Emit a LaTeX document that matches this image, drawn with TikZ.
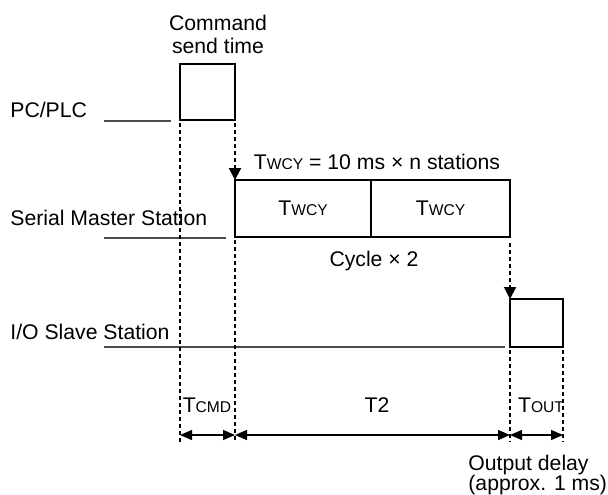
\documentclass[tikz,border=0pt]{standalone}
\usepackage{fontspec}
\setmainfont{Liberation Sans}
\usetikzlibrary{arrows.meta}
\newcommand{\tsub}[1]{{\fontsize{7.8}{9}\selectfont #1}}
\begin{document}
\begin{tikzpicture}[x=0.5pt, y=-0.5pt,
    every node/.style={font=\fontsize{10.6}{10}\selectfont, inner sep=0pt},
    slot/.style={draw, line width=1pt, anchor=north west, outer sep=0pt},
    level/.style={line width=0.6pt, draw=black!70},
    guide/.style={line width=1pt, dash pattern=on 2pt off 1.5pt},
    tip/.style={-{Triangle[length=6pt, width=6pt]}},
    span/.style={{Triangle[length=6pt, width=5pt]}-{Triangle[length=6pt, width=5pt]}, line width=0.65pt},
    lbl/.style={anchor=west}
]
    \useasboundingbox (0,0) rectangle (608,494);
    % station labels
    \node[lbl] (pc) at (10,110) {PC/PLC};
    \node[lbl] (master) at (10,218) {Serial Master Station};
    \node[lbl] (slave) at (10,332) {I/O Slave Station};
    % time lines
    \draw[level] (104,121) -- (171,121);
    \draw[level] (104,238) -- (226,238);
    \draw[level] (104,347) -- (505,347);
    % boxes
    \node[slot, minimum width=27.5pt, minimum height=28pt] (cmd) at (180,64) {};
    \node[slot, minimum width=68pt, minimum height=28.5pt] (cyc1) at (235,180) {T\tsub{WCY}};
    \node[slot, minimum width=69.5pt, minimum height=28.5pt] (cyc2) at (cyc1.north east) {T\tsub{WCY}};
    \node[slot, minimum width=26.5pt, minimum height=24pt] (out) at (510,299) {};
    % texts
    \node[align=center, font=\fontsize{10.6}{11.5}\selectfont] (send) at (218,34) {Command\\send time};
    \node (twcy) at (377,162) {T\tsub{WCY} = 10 ms × n stations};
    \node (cycle) at (374,261) {Cycle × 2};
    % guides
    \coordinate (base) at (0,442);
    \coordinate (dim) at (0,435);
    \draw[guide] ([yshift=-1.5pt]cmd.south west) -- (cmd.south west |- base);
    \draw[guide, tip] ([yshift=-1.5pt]cmd.south east) -- (cyc1.north west);
    \draw[guide] ([yshift=-1.5pt]cyc1.south west) -- (cyc1.south west |- base);
    \draw[guide, tip] ([yshift=-3pt]cyc2.south east) -- (out.north west);
    \draw[guide] ([yshift=-1.5pt]out.south west) -- (out.south west |- base);
    \draw[guide] ([yshift=-1.5pt]out.south east) -- (out.south east |- base);
    % durations
    \draw[span] (cmd.south west |- dim) -- (cmd.south east |- dim);
    \draw[span] (cyc1.south west |- dim) -- (out.south west |- dim);
    \draw[span] (out.south west |- dim) -- (out.south east |- dim);
    \node (tcmd) at (207,405) {T\tsub{CMD}};
    \node (t2) at (377,405) {T2};
    \node (tout) at (541,405) {T\tsub{OUT}};
    \node[align=left, anchor=north west] (delay) at (468,455) {Output delay\\(approx. 1 ms)};
\end{tikzpicture}
\end{document}
